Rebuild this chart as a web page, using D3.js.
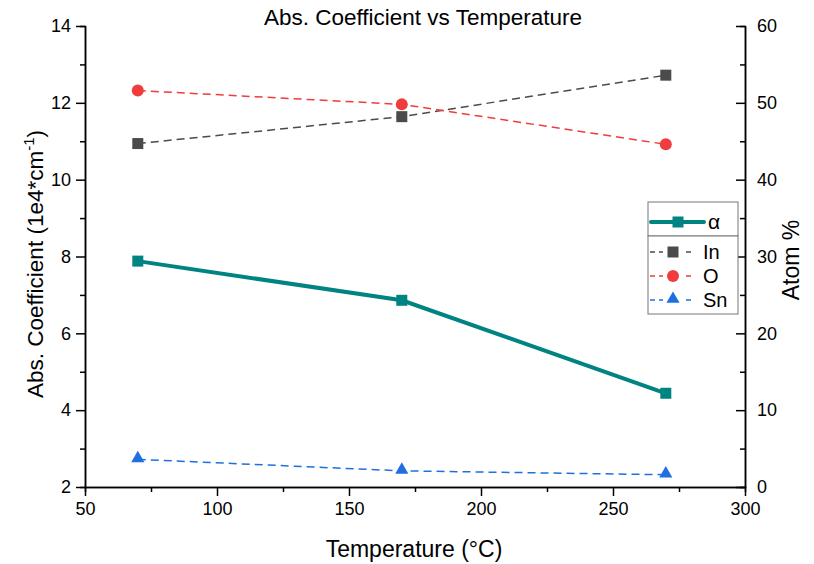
<!DOCTYPE html>
<html>
<head>
<meta charset="utf-8">
<script src="https://cdn.jsdelivr.net/npm/d3@7"></script>
<style>
  body { margin: 0; background: #fff; }
  svg text { font-family: "Liberation Sans", Arial, sans-serif; fill: #000; }
</style>
</head>
<body>
<div id="chart"></div>
<script>
// data
var temps = [70, 170, 270];
var alpha = [7.88, 6.86, 4.44];     // left axis, 1e4*cm-1
var inAtom = [44.7, 48.2, 53.6];    // right axis, atom %
var oAtom = [51.6, 49.8, 44.6];
var snAtom = [3.6, 2.1, 1.6];
var xTicks = [50, 100, 150, 200, 250, 300];
var yLeftTicks = [2, 4, 6, 8, 10, 12, 14];
var yRightTicks = [0, 10, 20, 30, 40, 50, 60];

var width = 814, height = 564;
var pLeft = 85, pRight = 745, pTop = 26, pBottom = 487;

var svg = d3.select("#chart").append("svg")
    .attr("width", width)
    .attr("height", height);

var x = d3.scaleLinear().domain([50, 300]).range([pLeft, pRight]);
var yL = d3.scaleLinear().domain([2, 14]).range([pBottom, pTop]);
var yR = d3.scaleLinear().domain([0, 60]).range([pBottom, pTop]);

// axes
function styleAxis(g) {
    g.selectAll("path").attr("stroke", "#000").attr("stroke-width", 1.5);
    g.selectAll("line").attr("stroke", "#000").attr("stroke-width", 1.5);
    g.selectAll("text").style("font-size", "18px");
}

// minor ticks first
svg.append("g")
    .attr("transform", "translate(0," + pBottom + ")")
    .call(d3.axisBottom(x).tickValues(d3.range(75, 300, 50)).tickSize(5).tickFormat(""))
    .call(styleAxis);
svg.append("g")
    .attr("transform", "translate(" + pLeft + ",0)")
    .call(d3.axisLeft(yL).tickValues(d3.range(3, 14, 2)).tickSize(5).tickFormat(""))
    .call(styleAxis);
svg.append("g")
    .attr("transform", "translate(" + pRight + ",0)")
    .call(d3.axisRight(yR).tickValues(d3.range(5, 60, 10)).tickSize(-5).tickFormat(""))
    .call(styleAxis);

svg.append("g")
    .attr("transform", "translate(0," + pBottom + ")")
    .call(d3.axisBottom(x).tickValues(xTicks).tickSize(9).tickPadding(6).tickSizeOuter(0))
    .call(styleAxis);
svg.append("g")
    .attr("transform", "translate(" + pLeft + ",0)")
    .call(d3.axisLeft(yL).tickValues(yLeftTicks).tickSize(9).tickPadding(5).tickSizeOuter(0))
    .call(styleAxis);
var rAxis = svg.append("g")
    .attr("transform", "translate(" + pRight + ",0)")
    .call(d3.axisRight(yR).tickValues(yRightTicks).tickSize(-9).tickPadding(6).tickSizeOuter(0))
    .call(styleAxis);
rAxis.selectAll("text").attr("x", 12);

// titles
svg.append("text")
    .attr("x", 423).attr("y", 25)
    .attr("text-anchor", "middle")
    .style("font-size", "22.5px")
    .text("Abs. Coefficient vs Temperature");

svg.append("text")
    .attr("x", 414).attr("y", 557)
    .attr("text-anchor", "middle")
    .style("font-size", "23px")
    .text("Temperature (\u00B0C)");

var yt = svg.append("text")
    .attr("transform", "translate(43,264) rotate(-90)")
    .attr("text-anchor", "middle")
    .style("font-size", "22.5px");
yt.append("tspan").text("Abs. Coefficient (1e4*cm");
yt.append("tspan").attr("dy", -9).style("font-size", "15px").text("-1");
yt.append("tspan").attr("dy", 9).text(")");

svg.append("text")
    .attr("transform", "translate(799,260) rotate(-90)")
    .attr("text-anchor", "middle")
    .style("font-size", "23px")
    .text("Atom %");

// series
var series = [
    { name: "In", vals: inAtom, y: yR, color: "#4b4b4b", shape: "square", dash: "8,5", w: 1.5 },
    { name: "O", vals: oAtom, y: yR, color: "#f03c3c", shape: "circle", dash: "8,5", w: 1.5 },
    { name: "Sn", vals: snAtom, y: yR, color: "#1f6fe0", shape: "triangle", dash: "8,5", w: 1.5 },
    { name: "\u03B1", vals: alpha, y: yL, color: "#008482", shape: "square", dash: null, w: 4 }
];

function marker(g, shape, color, cx, cy) {
    if (shape == "square") {
        g.append("rect").attr("x", cx - 5.5).attr("y", cy - 5.5)
            .attr("width", 11).attr("height", 11).attr("fill", color);
    } else if (shape == "circle") {
        g.append("circle").attr("cx", cx).attr("cy", cy).attr("r", 6).attr("fill", color);
    } else {
        g.append("path")
            .attr("d", d3.symbol().type(d3.symbolTriangle).size(75)())
            .attr("transform", "translate(" + cx + "," + (cy - 1) + ")")
            .attr("fill", color);
    }
}

series.forEach(function (s) {
    var line = d3.line()
        .x(function (d, i) { return x(temps[i]); })
        .y(function (d) { return s.y(d); });
    svg.append("path")
        .datum(s.vals)
        .attr("d", line)
        .attr("fill", "none")
        .attr("stroke", s.color)
        .attr("stroke-width", s.w)
        .attr("stroke-dasharray", s.dash);
    var g = svg.append("g");
    s.vals.forEach(function (v, i) { marker(g, s.shape, s.color, x(temps[i]), s.y(v)); });
});

// legend
var lg = svg.append("g");
lg.append("rect").attr("x", 648).attr("y", 202).attr("width", 90).attr("height", 34)
    .attr("fill", "#fff").attr("stroke", "#777").attr("stroke-width", 1);
lg.append("rect").attr("x", 648).attr("y", 236).attr("width", 90).attr("height", 78)
    .attr("fill", "#fff").attr("stroke", "#777").attr("stroke-width", 1);

var a = series[3];
lg.append("line").attr("x1", 651).attr("x2", 704).attr("y1", 222).attr("y2", 222)
    .attr("stroke", a.color).attr("stroke-width", 4).attr("stroke-linecap", "round");
marker(lg, "square", a.color, 678, 222);
lg.append("text").attr("x", 708).attr("y", 229).style("font-size", "21px").text(a.name);

series.slice(0, 3).forEach(function (s, i) {
    var yy = 252 + i * 24;
    lg.append("line").attr("x1", 650).attr("x2", 692).attr("y1", yy).attr("y2", yy)
        .attr("stroke", s.color).attr("stroke-width", 1.5).attr("stroke-dasharray", "5,4");
    lg.append("rect").attr("x", 663).attr("y", yy - 4).attr("width", 20).attr("height", 8).attr("fill", "#fff");
    marker(lg, s.shape, s.color, 673, yy);
    lg.append("text").attr("x", 703).attr("y", yy + 7).style("font-size", "20px").text(s.name);
});
</script>
</body>
</html>
